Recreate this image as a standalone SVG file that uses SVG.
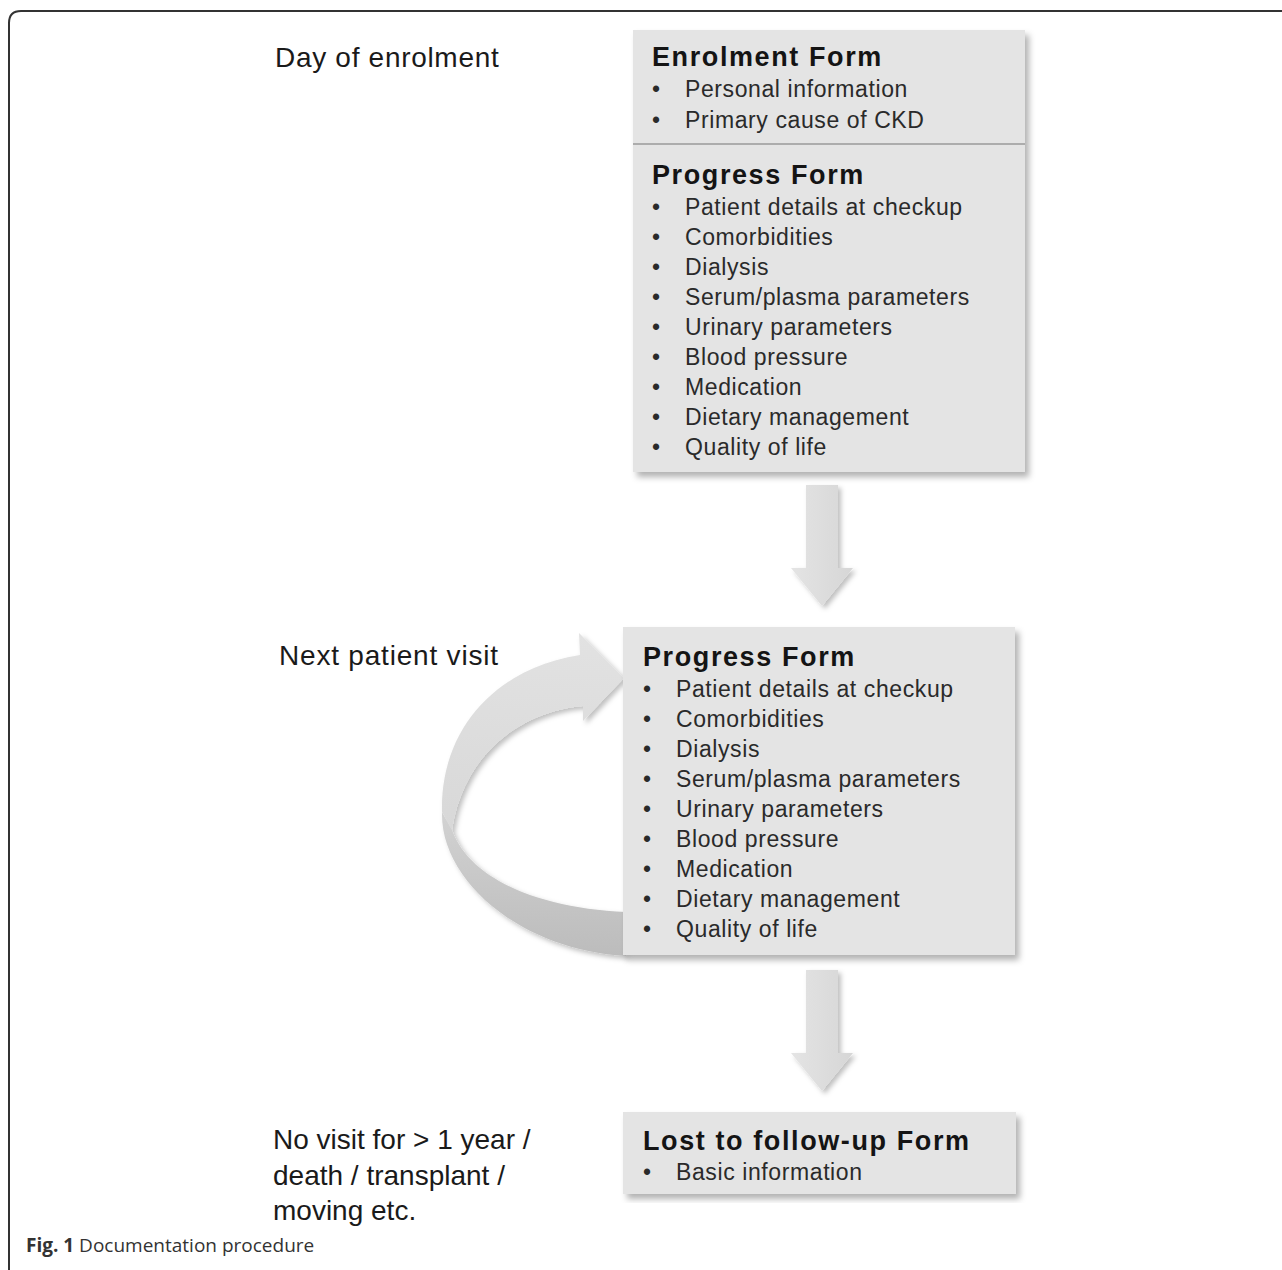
<svg xmlns="http://www.w3.org/2000/svg" width="1282" height="1270" viewBox="0 0 1282 1270">
<defs>
<style>
.lbl{font-family:"Liberation Sans",Arial,sans-serif;font-size:28px;fill:#1a1a1a;}
.ttl{font-family:"Liberation Sans",Arial,sans-serif;font-size:27px;font-weight:bold;fill:#141414;letter-spacing:1.6px;}
.itm{font-family:"Liberation Sans",Arial,sans-serif;font-size:23px;fill:#2a2a2a;letter-spacing:0.6px;}
.box{fill:#e4e4e4;}
.cap{font-family:"Open Sans","Noto Sans",sans-serif;font-size:19px;fill:#333;}
</style>
<filter id="sh" x="-5%" y="-5%" width="115%" height="115%">
<feDropShadow dx="4" dy="5" stdDeviation="3" flood-color="#000" flood-opacity="0.3"/>
</filter>
<filter id="ash" x="-20%" y="-10%" width="150%" height="130%">
<feDropShadow dx="3" dy="3" stdDeviation="2.5" flood-color="#000" flood-opacity="0.25"/>
</filter>
<linearGradient id="ag" x1="0" y1="0" x2="1" y2="0">
<stop offset="0" stop-color="#e4e4e4"/>
<stop offset="1" stop-color="#d6d6d6"/>
</linearGradient>
<linearGradient id="topg" x1="0" y1="0" x2="0" y2="1">
<stop offset="0" stop-color="#e2e2e2"/>
<stop offset="1" stop-color="#d8d8d8"/>
</linearGradient>
<linearGradient id="botg" x1="0" y1="0" x2="0" y2="1">
<stop offset="0" stop-color="#d2d2d2"/>
<stop offset="1" stop-color="#bcbcbc"/>
</linearGradient>
</defs>
<rect width="1282" height="1270" fill="#fff"/>
<path d="M1282 11 H21 Q9 11 9 23 V1270" fill="none" stroke="#333" stroke-width="2"/>

<g id="connectors">
<g id="arrow1" filter="url(#ash)">
<path d="M806 485 H838 V568 H853 L822 606 L791 568 H806 Z" fill="url(#ag)"/>
</g>
<g id="arrow2" filter="url(#ash)">
<path d="M806 970 H838 V1053 H853 L822 1091 L791 1053 H806 Z" fill="url(#ag)"/>
</g>
<g id="loop" filter="url(#ash)">
<path d="M442 812 C440 880 520 950 626 956 L626 912 C540 908 470 880 452 830 Z" fill="url(#botg)"/>
<path d="M442 812 C440 730 495 668 580 655 L579 633 L624 678 L583 721 L583 706 C515 712 462 760 452 830 Z" fill="url(#topg)"/>
</g>
</g>

<text class="lbl" x="275" y="67" letter-spacing="0.7">Day of enrolment</text>
<text class="lbl" x="279" y="665" letter-spacing="0.8">Next patient visit</text>
<text class="lbl" x="273" y="1149">No visit for &gt; 1 year /</text>
<text class="lbl" x="273" y="1185">death / transplant  /</text>
<text class="lbl" x="273" y="1220">moving etc.</text>

<g id="node1">
<rect class="box" x="633" y="30" width="392" height="442" filter="url(#sh)"/>
<line x1="633" y1="144" x2="1025" y2="144" stroke="#9a9a9a" stroke-width="1.5"/>
<text class="ttl" x="652" y="66">Enrolment Form</text>
<g class="itm">
<text x="652" y="97">•</text><text x="685" y="97">Personal information</text>
<text x="652" y="128">•</text><text x="685" y="128">Primary cause of CKD</text>
</g>
<text class="ttl" x="652" y="184">Progress Form</text>
<g class="itm">
<text x="652" y="215">•</text><text x="685" y="215">Patient details at checkup</text>
<text x="652" y="245">•</text><text x="685" y="245">Comorbidities</text>
<text x="652" y="275">•</text><text x="685" y="275">Dialysis</text>
<text x="652" y="305">•</text><text x="685" y="305">Serum/plasma parameters</text>
<text x="652" y="335">•</text><text x="685" y="335">Urinary parameters</text>
<text x="652" y="365">•</text><text x="685" y="365">Blood pressure</text>
<text x="652" y="395">•</text><text x="685" y="395">Medication</text>
<text x="652" y="425">•</text><text x="685" y="425">Dietary management</text>
<text x="652" y="455">•</text><text x="685" y="455">Quality of life</text>
</g>
</g>

<g id="node2">
<rect class="box" x="623" y="627" width="392" height="328" filter="url(#sh)"/>
<text class="ttl" x="643" y="666">Progress Form</text>
<g class="itm">
<text x="643" y="697">•</text><text x="676" y="697">Patient details at checkup</text>
<text x="643" y="727">•</text><text x="676" y="727">Comorbidities</text>
<text x="643" y="757">•</text><text x="676" y="757">Dialysis</text>
<text x="643" y="787">•</text><text x="676" y="787">Serum/plasma parameters</text>
<text x="643" y="817">•</text><text x="676" y="817">Urinary parameters</text>
<text x="643" y="847">•</text><text x="676" y="847">Blood pressure</text>
<text x="643" y="877">•</text><text x="676" y="877">Medication</text>
<text x="643" y="907">•</text><text x="676" y="907">Dietary management</text>
<text x="643" y="937">•</text><text x="676" y="937">Quality of life</text>
</g>
</g>

<g id="node3">
<rect class="box" x="623" y="1112" width="393" height="82" filter="url(#sh)"/>
<text class="ttl" x="643" y="1150">Lost to follow-up Form</text>
<g class="itm">
<text x="643" y="1180">•</text><text x="676" y="1180">Basic information</text>
</g>
</g>

<text class="cap" x="26" y="1252"><tspan font-weight="bold">Fig. 1</tspan> Documentation procedure</text>
</svg>
